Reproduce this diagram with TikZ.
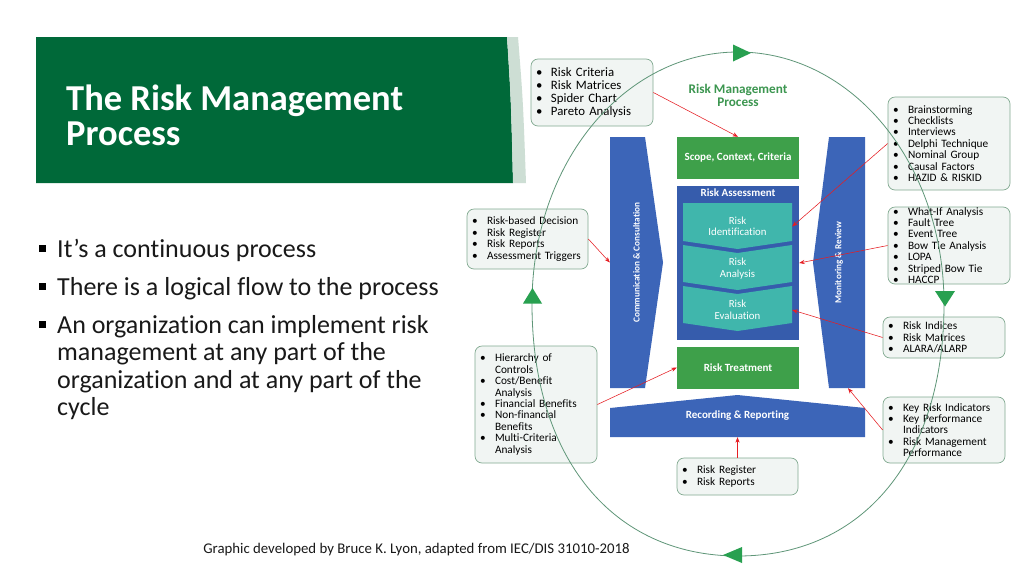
\documentclass[tikz,border=0pt]{standalone}
\usepackage{fontspec}
\setmainfont{Carlito}[Ligatures={TeX,NoCommon}]
\usetikzlibrary{arrows.meta}
\definecolor{titlegreen}{RGB}{0,105,57}
\definecolor{stripc}{RGB}{205,222,212}
\definecolor{dblue}{RGB}{60,101,184}
\definecolor{ablue}{RGB}{54,92,172}
\definecolor{chevc}{RGB}{64,182,172}
\definecolor{mgreen}{RGB}{62,160,74}
\definecolor{rmgreen}{RGB}{60,150,80}
\definecolor{boxline}{RGB}{130,170,145}
\definecolor{boxfill}{RGB}{241,245,243}
\definecolor{cred}{RGB}{230,30,35}
\definecolor{cycline}{RGB}{95,150,120}
\definecolor{tri}{RGB}{40,160,80}
\newcommand\bul{\makebox[15pt][l]{•}}
\newcommand\ind{\hspace*{15pt}}
\tikzset{
  lbox/.style={draw=boxline, fill=boxfill, rounded corners=7pt, line width=0.7pt, align=left, inner xsep=5pt, inner ysep=0pt, text=black, font=\fontsize{11.3}{11.4}\selectfont},
  shapetext/.style={text=white, font=\bfseries\fontsize{11}{12}\selectfont, inner sep=0pt},
  greenbox/.style={fill=mgreen, draw=none, shapetext},
  chevtext/.style={text=white, font=\fontsize{10.8}{11.5}\selectfont, align=center, inner sep=0pt, minimum width=109pt},
  conn/.style={draw=cred, line width=0.55pt, -{Stealth[length=5.5pt,width=4.2pt]}},
  cyc/.style={draw=cycline, line width=0.8pt},
  cyctri/.style={fill=tri, draw=none},
  mainitem/.style={anchor=base west, inner sep=0pt, text=black!90, font=\fontsize{26}{28}\selectfont},
  sq/.style={fill=black, minimum size=6.5pt, inner sep=0pt},
  ttl/.style={anchor=base west, inner sep=0pt, text=white, font=\bfseries\fontsize{36.5}{36.5}\selectfont},
  sidetext/.style={inner sep=0pt, minimum height=251pt, text=white, font=\bfseries\fontsize{9.2}{10}\selectfont},
}
\begin{document}
\begin{tikzpicture}[x=1pt,y=-1pt]
\useasboundingbox (0,0) rectangle (1024,576);
\fill[white] (0,0) rectangle (1024,576);
% title band
\fill[titlegreen] (36,37) -- (507,37) .. controls (511,100) .. (513,183) -- (36,183) -- cycle;
\fill[stripc] (507,37) -- (518,37) .. controls (523,100) .. (526,183) -- (513,183) .. controls (511,100) .. (507,37) -- cycle;
\node[ttl] (t1) at (66,110) {The Risk Management};
\node[ttl] (t2) at (66,145) {Process};
% bullets
\node[sq] (b1) at (42.5,248.5) {};
\node[mainitem] (i1) at (57,257) {It’s a continuous process};
\node[sq] (b2) at (42.5,286.5) {};
\node[mainitem] (i2) at (57,295) {There is a logical flow to the process};
\node[sq] (b3) at (42.5,324.5) {};
\node[mainitem] (i3a) at (57,333) {An organization can implement risk};
\node[mainitem] (i3b) at (57,360.5) {management at any part of the};
\node[mainitem] (i3c) at (57,388) {organization and at any part of the};
\node[mainitem] (i3d) at (57,415.5) {cycle};
% footer
\node[anchor=base, inner sep=0pt, text=black!90, font=\fontsize{14.8}{16}\selectfont] (foot) at (416.5,553) {Graphic developed by Bruce K. Lyon, adapted from IEC/DIS 31010-2018};
% central shapes
\fill[dblue] (610,137) -- (645,137) -- (663,262.5) -- (645,388) -- (610,388) -- cycle;
\node[sidetext, minimum width=53pt] (comm) at (636.5,262.5) {\rotatebox{90}{Communication \& Consultation}};
\fill[dblue] (865,137) -- (829,137) -- (813,262.5) -- (829,388) -- (865,388) -- cycle;
\node[sidetext, minimum width=52pt] (mon) at (839,262.5) {\rotatebox{90}{Monitoring \& Review}};
\fill[dblue] (610,408) -- (737.5,395) -- (865,408) -- (865,437) -- (610,437) -- cycle;
\node[shapetext, minimum width=255pt, minimum height=42pt] (rec) at (737.5,416) {Recording \& Reporting};
\node[greenbox, minimum width=122pt, minimum height=42pt] (scope) at (738,158) {Scope, Context, Criteria};
\node[fill=ablue, inner sep=0pt, minimum width=122pt, minimum height=154pt] (ra) at (738,263) {};
\node[shapetext] (ratitle) at (738,193) {Risk Assessment};
\fill[chevc] (683,203) -- (792,203) -- (792,241) -- (737.5,249) -- (683,241) -- cycle;
\fill[chevc] (683,245) -- (737.5,253) -- (792,245) -- (792,282) -- (737.5,290) -- (683,282) -- cycle;
\fill[chevc] (683,286) -- (737.5,294) -- (792,286) -- (792,323) -- (737.5,331) -- (683,323) -- cycle;
\node[chevtext] (rid) at (737.5,226.5) {Risk\\Identification};
\node[chevtext] (ran) at (737.5,268.5) {Risk\\Analysis};
\node[chevtext] (rev) at (737.5,310) {Risk\\Evaluation};
\node[greenbox, minimum width=122pt, minimum height=42pt] (treat) at (738,367.5) {Risk Treatment};
\node[text=rmgreen, font=\bfseries\fontsize{13.2}{13}\selectfont, align=center, inner sep=0pt] (rmp) at (738,95.5) {Risk Management\\Process};
% list boxes
\node[lbox, font=\fontsize{12.8}{13}\selectfont, minimum width=122pt, minimum height=67pt, text width=112pt] (crit) at (592,92.5) {\bul Risk Criteria\\\bul Risk Matrices\\\bul Spider Chart\\\bul Pareto Analysis};
\node[lbox, minimum width=122pt, minimum height=93pt, text width=112pt] (brain) at (949,143.5) {\bul Brainstorming\\\bul Checklists\\\bul Interviews\\\bul Delphi Technique\\\bul Nominal Group\\\bul Causal Factors\\\bul HAZID \& RISKID};
\node[lbox, minimum width=122pt, minimum height=77pt, text width=112pt] (whatif) at (949,245.5) {\bul What-If Analysis\\\bul Fault Tree\\\bul Event Tree\\\bul Bow Tie Analysis\\\bul LOPA\\\bul Striped Bow Tie\\\bul HACCP};
\node[lbox, minimum width=122pt, minimum height=41pt, text width=112pt] (indices) at (944,337.5) {\bul Risk Indices\\\bul Risk Matrices\\\bul ALARA/ALARP};
\node[lbox, minimum width=122pt, minimum height=66pt, text width=112pt] (kri) at (944,430) {\bul Key Risk Indicators\\\bul Key Performance\\\ind Indicators\\\bul Risk Management\\\ind Performance};
\node[lbox, minimum width=121pt, minimum height=60pt, text width=111pt] (rbd) at (527.5,239) {\bul Risk-based Decision\\\bul Risk Register\\\bul Risk Reports\\\bul Assessment Triggers};
\node[lbox, minimum width=122pt, minimum height=117pt, text width=112pt] (hier) at (536,404.5) {\bul Hierarchy of\\\ind Controls\\\bul Cost/Benefit\\\ind Analysis\\\bul Financial Benefits\\\bul Non-financial\\\ind Benefits\\\bul Multi-Criteria\\\ind Analysis};
\node[lbox, minimum width=121pt, minimum height=37pt, text width=111pt] (regbox) at (737.5,476.5) {\bul Risk Register\\\bul Risk Reports};
% cycle
\draw[cyc] (944,304) .. controls (944,457.7) and (863.7,556) .. (738,556) .. controls (612.3,556) and (532,457.7) .. (532,304) .. controls (532,163) and (624,52) .. (738,52) .. controls (852,52) and (944,163) .. (944,304);
\fill[cyctri] (733,44.5) -- (751,53) -- (733,61.5) -- cycle;
\fill[cyctri] (935,291) -- (955,291) -- (945,306.5) -- cycle;
\fill[cyctri] (742,547) -- (742,563) -- (723,555) -- cycle;
\fill[cyctri] (523,303.5) -- (542,303.5) -- (532.5,288) -- cycle;
% connectors
\draw[conn] (crit.east) -- (scope.north);
\draw[conn] (brain.west) -- (rid.east);
\draw[conn] (whatif.west) -- (ra.east);
\draw[conn] (indices.west) -- (rev.east);
\draw[conn] (kri.west) -- ([xshift=9pt]mon.south);
\draw[conn] (rbd.east) -- (comm.west);
\draw[conn] (hier.east) -- (treat.west);
\draw[conn] (regbox.north) -- (rec.south);
\end{tikzpicture}
\end{document}
